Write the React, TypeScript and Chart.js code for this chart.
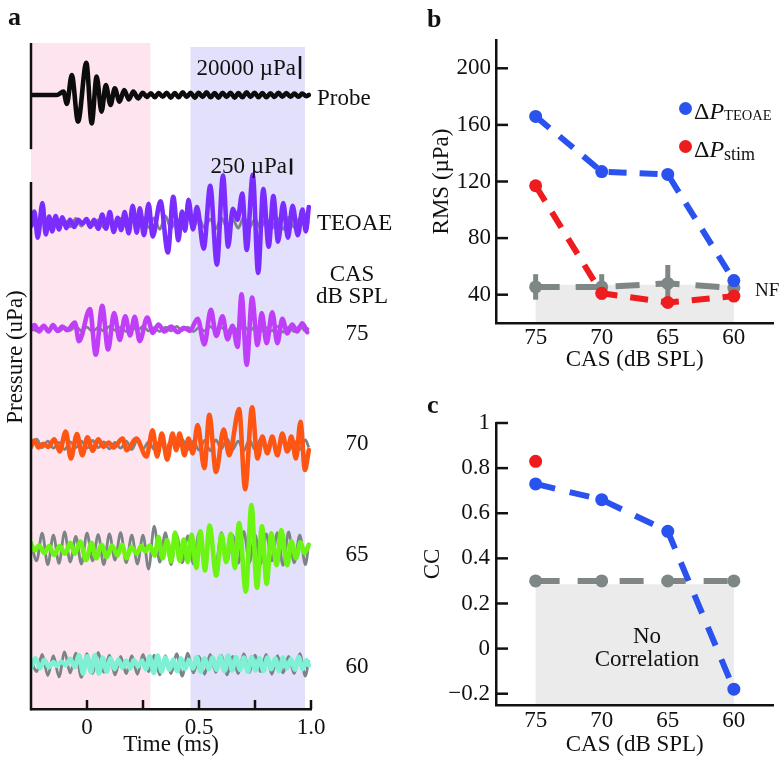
import React, { useEffect, useRef } from "react";
import { Chart, registerables } from "chart.js";

Chart.register(...registerables);

const SERIF = "'Liberation Serif', 'Times New Roman', Times, serif";
const INK = "#111111";

// ---------------- Panel a: waveforms (time in ms, pressure in µPa) ----------------
const timeTicks = [0, 0.5, 1.0];
const timeMinorTicks = [0.25, 0.75];
const windowStarts = [-0.25, 0.462];
const windowEnds = [0.283, 0.973];
const scaleBarValues = [20000, 250];

const probeWave = [[-0.25,0],[-0.135,0],[-0.105,2900],[-0.09,-7800],[-0.068,17400],[-0.04,-23200],[-0.003,28100],[0.021,-24700],[0.043,16000],[0.065,-14500],[0.084,8700],[0.105,-8700],[0.124,5800],[0.145,-5800],[0.166,4400],[0.187,-3800],[0.207,2900],[0.228,-2900],[0.249,2000],[0.267,-1700],[0.285,1500],[0.303,-2000],[0.32,1700],[0.338,-1500],[0.356,2000],[0.374,-2300],[0.392,1700],[0.409,-2000],[0.427,2300],[0.445,-1700],[0.463,2000],[0.481,-2300],[0.498,2000],[0.516,-1700],[0.534,2300],[0.552,-2000],[0.57,1700],[0.587,-2300],[0.605,2000],[0.623,-1700],[0.641,2000],[0.659,-2300],[0.676,1700],[0.694,-2000],[0.712,2300],[0.73,-1700],[0.748,2000],[0.766,-2000],[0.783,1700],[0.801,-2000],[0.819,1500],[0.837,-1700],[0.855,2000],[0.872,-1500],[0.89,1700],[0.908,-1500],[0.926,1200],[0.944,-1500],[0.961,1200],[0.979,-1000],[0.99,0]];

const teoaeWave = [[-0.25,-50],[-0.235,180],[-0.22,-230],[-0.199,310],[-0.184,-180],[-0.169,100],[-0.155,-130],[-0.14,110],[-0.125,-100],[-0.11,90],[-0.092,-80],[-0.076,50],[-0.057,-60],[-0.039,50],[-0.021,-10],[-0.002,60],[0.014,-60],[0.032,50],[0.05,-90],[0.068,130],[0.085,-90],[0.102,170],[0.119,-140],[0.137,80],[0.153,-110],[0.168,170],[0.186,-160],[0.204,270],[0.222,-150],[0.236,230],[0.254,-190],[0.275,300],[0.293,-210],[0.328,340],[0.361,-460],[0.385,410],[0.408,-270],[0.424,180],[0.438,-120],[0.453,360],[0.473,-100],[0.491,250],[0.521,-400],[0.55,580],[0.58,-650],[0.607,740],[0.63,-370],[0.651,220],[0.672,50],[0.693,460],[0.713,-420],[0.74,750],[0.764,-780],[0.787,530],[0.811,-370],[0.832,420],[0.853,-290],[0.876,310],[0.897,-230],[0.918,270],[0.941,-190],[0.962,210],[0.977,-130],[0.99,250]];

const cas75Wave = [[-0.25,-10],[-0.235,60],[-0.214,-40],[-0.193,50],[-0.172,-40],[-0.152,60],[-0.131,-30],[-0.11,40],[-0.089,-20],[-0.054,100],[-0.036,-190],[0.013,310],[0.039,-400],[0.068,360],[0.094,-320],[0.121,250],[0.146,-170],[0.171,200],[0.192,-100],[0.213,190],[0.235,-190],[0.269,180],[0.294,-60],[0.319,70],[0.346,-40],[0.376,40],[0.405,-50],[0.432,20],[0.459,-30],[0.494,160],[0.524,-240],[0.553,300],[0.577,-110],[0.605,200],[0.627,-160],[0.65,50],[0.672,-280],[0.69,540],[0.713,-560],[0.737,490],[0.761,-250],[0.78,250],[0.802,-220],[0.827,260],[0.85,-220],[0.872,160],[0.894,-70],[0.916,70],[0.938,-40],[0.961,90],[0.983,-50]];

const cas70Wave = [[-0.25,0],[-0.235,70],[-0.217,-40],[-0.195,20],[-0.172,-30],[-0.146,90],[-0.122,-100],[-0.095,210],[-0.072,-210],[-0.045,170],[-0.021,-160],[0.002,120],[0.026,-90],[0.05,90],[0.074,-30],[0.097,40],[0.118,-40],[0.159,100],[0.177,-80],[0.22,100],[0.265,-180],[0.293,230],[0.313,-180],[0.334,180],[0.358,-230],[0.382,180],[0.398,-80],[0.413,180],[0.435,-160],[0.453,100],[0.472,-130],[0.494,310],[0.524,-360],[0.546,470],[0.576,-420],[0.61,240],[0.635,-160],[0.679,560],[0.706,-690],[0.737,590],[0.761,-210],[0.783,130],[0.805,-130],[0.827,130],[0.85,-160],[0.872,180],[0.894,-100],[0.912,130],[0.933,-210],[0.953,360],[0.973,-390],[0.99,-80]];

const cas65Wave = [[-0.25,70],[-0.235,-40],[-0.214,40],[-0.19,-80],[-0.169,30],[-0.146,-110],[-0.122,30],[-0.098,-90],[-0.075,80],[-0.054,-90],[-0.03,100],[-0.004,-190],[0.02,80],[0.041,-160],[0.065,50],[0.088,-140],[0.112,40],[0.136,-120],[0.156,50],[0.177,-160],[0.198,20],[0.222,-90],[0.242,30],[0.26,-50],[0.281,40],[0.302,-120],[0.319,170],[0.337,-160],[0.358,120],[0.376,-210],[0.393,240],[0.414,-200],[0.432,130],[0.45,-220],[0.467,210],[0.488,-310],[0.506,260],[0.527,-350],[0.547,350],[0.577,-430],[0.601,210],[0.621,-220],[0.642,220],[0.66,-310],[0.679,390],[0.709,-680],[0.734,670],[0.759,-620],[0.781,340],[0.802,-560],[0.823,230],[0.847,-270],[0.867,280],[0.894,-270],[0.912,110],[0.933,-160],[0.953,90],[0.971,-80],[0.99,50]];

const cas60Wave = [[-0.25,-60],[-0.23,90],[-0.21,-70],[-0.19,60],[-0.17,-50],[-0.15,30],[-0.135,-30],[-0.115,40],[-0.095,-20],[-0.075,80],[-0.055,-50],[-0.035,140],[-0.018,-150],[0,120],[0.018,-130],[0.035,140],[0.053,-150],[0.07,100],[0.088,-120],[0.105,90],[0.123,-80],[0.14,70],[0.158,-60],[0.175,50],[0.193,-70],[0.21,60],[0.228,-40],[0.245,50],[0.263,-80],[0.28,120],[0.298,-140],[0.315,130],[0.333,-120],[0.35,100],[0.368,-90],[0.385,70],[0.403,-110],[0.42,90],[0.438,-80],[0.455,60],[0.473,-70],[0.49,110],[0.508,-120],[0.525,90],[0.543,-80],[0.56,100],[0.578,-90],[0.595,120],[0.613,-110],[0.63,130],[0.648,-100],[0.665,110],[0.683,-90],[0.7,100],[0.718,-120],[0.735,110],[0.753,-100],[0.77,90],[0.788,-110],[0.805,100],[0.823,-80],[0.84,90],[0.858,-110],[0.875,100],[0.893,-70],[0.91,80],[0.928,-90],[0.945,110],[0.963,-80],[0.98,60],[0.99,-20]];

// noise-floor (gray) traces, sampled at the same times
const noiseTime = [-0.25,-0.225,-0.2,-0.175,-0.15,-0.125,-0.1,-0.075,-0.05,-0.025,0,0.025,0.05,0.075,0.1,0.125,0.15,0.175,0.2,0.225,0.25,0.275,0.3,0.325,0.35,0.375,0.4,0.425,0.45,0.475,0.5,0.525,0.55,0.575,0.6,0.625,0.65,0.675,0.7,0.725,0.75,0.775,0.8,0.825,0.85,0.875,0.9,0.925,0.95,0.975,0.99];
const noiseTEOAE = [20,-60,50,-70,60,-50,40,-60,70,-50,60,-40,50,-70,60,-50,70,-60,50,-80,90,-70,80,-100,110,-90,70,-80,90,-60,70,-80,60,-90,80,-70,60,-80,90,-70,60,-80,70,-90,80,-100,90,-70,80,-60,30];
const noise75 = [10,-30,40,-30,20,-40,30,-20,40,-30,30,-40,20,-30,40,-20,30,-40,30,-20,40,-30,20,-40,30,-30,40,-20,30,-40,20,-30,40,-30,20,-40,30,-20,40,-30,30,-40,20,-30,40,-50,30,-40,50,-30,20];
const noise70 = [-60,90,-40,60,-50,40,-70,50,-40,60,-50,70,-40,50,-60,40,-50,60,-70,80,-60,50,-70,60,-80,70,-60,90,-70,60,-80,70,-90,80,-60,100,-70,60,-90,80,-70,90,-60,70,-100,80,-90,60,-70,80,-40];
const noise65 = [100,-200,230,-260,200,-240,250,-220,180,-250,230,-200,210,-260,220,-190,240,-230,200,-250,200,-330,340,-220,240,-260,210,-230,190,-250,230,-200,220,-260,240,-210,200,-240,260,-230,210,-250,220,-200,240,-270,250,-230,200,-260,80];
const noise60 = [60,-120,150,-180,130,-200,190,-140,170,-210,160,-150,180,-130,140,-170,120,-150,130,-160,150,-120,140,-170,130,-150,160,-190,170,-140,120,-160,150,-130,140,-170,120,-150,160,-130,140,-120,150,-160,130,-140,120,-150,160,-190,60];

// ---------------- Panel b: RMS vs CAS ----------------
const casLevels = [75, 70, 65, 60];
const casTicks = [75, 70, 65, 60];
const rmsTicks = [40, 80, 120, 160, 200];
const rmsTEOAE = [166, 127, 125, 50];
const rmsStim = [117, 41, 34.5, 39];
const rmsNF = [45.5, 45.5, 48, 44.7];
const rmsNFErr = [9, 9, 13, 9.5];
const rmsNFShade = 47;

// ---------------- Panel c: CC vs CAS ----------------
const ccTicks = [-0.2, 0, 0.2, 0.4, 0.6, 0.8, 1];
const ccTEOAE = [0.73, 0.66, 0.52, -0.18];
const ccStimLevels = [75];
const ccStim = [0.83];
const ccNoCorr = [0.3, 0.3, 0.3, 0.3];
const ccShade = 0.285;

// ---------------- styles ----------------
const BLUE = "#2a52ef";
const RED = "#ee1b1f";
const GRAY = "#7e8686";
const SHADE = "#ebebeb";
const TRACE_GRAY = "#7b8387";
const RESP_GAIN = 1 / 15.6; // px per µPa
const PROBE_GAIN = 1 / 870;

const font = (size: number) => ({ size, family: SERIF });

function makeA(canvas: HTMLCanvasElement) {
  const colored = [
    { w: probeWave, base: 95, gain: PROBE_GAIN, color: "#0c0c0c" },
    { w: teoaeWave, base: 223, gain: RESP_GAIN, color: "#7b2dff" },
    { w: cas75Wave, base: 329, gain: RESP_GAIN, color: "#bf3ff9" },
    { w: cas70Wave, base: 445, gain: RESP_GAIN, color: "#ff5512" },
    { w: cas65Wave, base: 548, gain: RESP_GAIN, color: "#6cf512" },
    { w: cas60Wave, base: 664, gain: RESP_GAIN, color: "#7ef0d3" },
  ];
  const noise = [
    { n: noiseTEOAE, base: 223 },
    { n: noise75, base: 329 },
    { n: noise70, base: 445 },
    { n: noise65, base: 548 },
    { n: noise60, base: 664 },
  ];
  const datasets: any[] = [];
  colored.forEach((c) =>
    datasets.push({
      data: c.w.map(([t, p]) => ({ x: t, y: c.base - p * c.gain })),
      borderColor: c.color,
      borderWidth: 4.6,
      pointRadius: 0,
      cubicInterpolationMode: "monotone",
      borderJoinStyle: "round",
      borderCapStyle: "round",
      order: 0,
    })
  );
  noise.forEach((g) =>
    datasets.push({
      data: noiseTime.map((t, i) => ({ x: t, y: g.base - g.n[i] * RESP_GAIN })),
      borderColor: TRACE_GRAY,
      borderWidth: 2.8,
      pointRadius: 0,
      cubicInterpolationMode: "monotone",
      borderJoinStyle: "round",
      order: 1,
    })
  );
  const bars = [
    { t: 0.951, c: 67.5, gain: PROBE_GAIN },
    { t: 0.911, c: 166.5, gain: RESP_GAIN },
  ];
  const plugin = {
    id: "panelA",
    beforeDraw(chart: any) {
      const { ctx, scales } = chart;
      const x = scales.x, y = scales.y;
      const fills = ["#fde4ee", "#e2e0fa"];
      const tops = [43, 47];
      ctx.save();
      windowStarts.forEach((s, i) => {
        const x0 = x.getPixelForValue(s);
        const x1 = x.getPixelForValue(windowEnds[i]);
        const y0 = y.getPixelForValue(tops[i]);
        const y1 = y.getPixelForValue(709);
        ctx.fillStyle = fills[i];
        ctx.fillRect(x0, y0, x1 - x0, y1 - y0);
      });
      ctx.restore();
    },
    afterDraw(chart: any) {
      const { ctx, scales, chartArea } = chart;
      const x = scales.x, y = scales.y;
      ctx.save();
      ctx.strokeStyle = INK;
      ctx.lineWidth = 2.5;
      [[43, 148], [182, 709]].forEach(([a, b]) => {
        ctx.beginPath();
        ctx.moveTo(chartArea.left, y.getPixelForValue(a));
        ctx.lineTo(chartArea.left, y.getPixelForValue(b) + 1.2);
        ctx.stroke();
      });
      [...timeTicks, ...timeMinorTicks].forEach((v) => {
        const px = x.getPixelForValue(v);
        ctx.beginPath();
        ctx.moveTo(px, chartArea.bottom);
        ctx.lineTo(px, chartArea.bottom - 9);
        ctx.stroke();
      });
      bars.forEach((b, i) => {
        const half = (scaleBarValues[i] * b.gain) / 2;
        const px = x.getPixelForValue(b.t);
        ctx.beginPath();
        ctx.moveTo(px, y.getPixelForValue(b.c - half));
        ctx.lineTo(px, y.getPixelForValue(b.c + half));
        ctx.stroke();
      });
      ctx.restore();
    },
  };
  return new Chart(canvas, {
    type: "line",
    data: { datasets },
    options: {
      animation: false,
      responsive: false,
      layout: { padding: { left: 31, right: 89, top: 40, bottom: 0 } },
      plugins: { legend: { display: false }, tooltip: { enabled: false } },
      scales: {
        x: {
          type: "linear",
          min: -0.25,
          max: 1.0,
          afterBuildTicks: (s: any) => {
            s.ticks = timeTicks.map((v) => ({ value: v }));
          },
          afterFit: (s: any) => {
            s.height = 54;
          },
          grid: { display: false, drawTicks: false },
          border: { display: true, color: INK, width: 2.5 },
          ticks: {
            padding: 5,
            font: font(23),
            color: INK,
            autoSkip: false,
            maxRotation: 0,
            callback: (v: any) => (v === 0 ? "0" : v === 0.5 ? "0.5" : "1.0"),
          },
          title: { display: true, text: "Time (ms)", font: font(23), color: INK, padding: { top: 0, bottom: 4 } },
        },
        y: { type: "linear", display: false, min: 40, max: 709, reverse: true },
      },
    } as any,
    plugins: [plugin],
  });
}

function yTickPlugin(ticks: number[]) {
  return {
    id: "inwardTicks",
    afterDraw(chart: any) {
      const { ctx, scales, chartArea } = chart;
      ctx.save();
      ctx.strokeStyle = INK;
      ctx.lineWidth = 2.5;
      ticks.forEach((v) => {
        const py = scales.y.getPixelForValue(v);
        ctx.beginPath();
        ctx.moveTo(chartArea.left, py);
        ctx.lineTo(chartArea.left + 12, py);
        ctx.stroke();
      });
      ctx.restore();
    },
  };
}

function shadePlugin(top: number) {
  return {
    id: "shade",
    beforeDraw(chart: any) {
      const { ctx, scales, chartArea } = chart;
      const x0 = scales.x.getPixelForValue(75);
      const x1 = scales.x.getPixelForValue(60);
      const y0 = scales.y.getPixelForValue(top);
      ctx.save();
      ctx.fillStyle = SHADE;
      ctx.fillRect(x0, y0, x1 - x0, chartArea.bottom - y0);
      ctx.restore();
    },
  };
}

function casX(tl: number, titlePadBottom: number, h: number) {
  return {
    type: "linear",
    reverse: true,
    min: 57,
    max: 78,
    afterBuildTicks: (s: any) => {
      s.ticks = casTicks.map((v) => ({ value: v }));
    },
    afterFit: (s: any) => {
      s.height = h;
    },
    grid: { display: false, drawTicks: false },
    border: { display: true, color: INK, width: 2.5 },
    ticks: { padding: tl, font: font(23), color: INK, autoSkip: false, maxRotation: 0, callback: (v: any) => String(v) },
    title: { display: true, text: "CAS (dB SPL)", font: font(23), color: INK, padding: { top: 0, bottom: titlePadBottom } },
  };
}

function lineDs(levels: number[], vals: number[], color: string, dash: number[], order: number, showLine = true) {
  return {
    data: levels.map((c, i) => ({ x: c, y: vals[i] })),
    borderColor: color,
    backgroundColor: color,
    pointBackgroundColor: color,
    pointBorderWidth: 0,
    pointRadius: 6.5,
    borderWidth: 6,
    borderDash: dash,
    borderCapStyle: "butt",
    showLine,
    tension: 0,
    order,
  };
}

function makeB(canvas: HTMLCanvasElement) {
  const errPlugin = {
    id: "errbars",
    beforeDatasetsDraw(chart: any) {
      const { ctx, scales } = chart;
      ctx.save();
      ctx.strokeStyle = GRAY;
      ctx.lineWidth = 5;
      casLevels.forEach((c, i) => {
        const px = scales.x.getPixelForValue(c);
        ctx.beginPath();
        ctx.moveTo(px, scales.y.getPixelForValue(rmsNF[i] - rmsNFErr[i]));
        ctx.lineTo(px, scales.y.getPixelForValue(rmsNF[i] + rmsNFErr[i]));
        ctx.stroke();
      });
      ctx.restore();
    },
  };
  return new Chart(canvas, {
    type: "line",
    data: {
      datasets: [
        lineDs(casLevels, rmsTEOAE, BLUE, [18, 13], 0),
        lineDs(casLevels, rmsStim, RED, [18, 13], 1),
        lineDs(casLevels, rmsNF, GRAY, [24, 16], 2),
      ],
    },
    options: {
      animation: false,
      responsive: false,
      layout: { padding: { left: 0, right: 2, top: 40, bottom: 0 } },
      plugins: { legend: { display: false }, tooltip: { enabled: false } },
      scales: {
        x: casX(1.5, 6, 57),
        y: {
          type: "linear",
          min: 20,
          max: 220,
          afterBuildTicks: (s: any) => {
            s.ticks = rmsTicks.map((v) => ({ value: v }));
          },
          afterFit: (s: any) => {
            s.width = 76;
          },
          grid: { display: false, drawTicks: false },
          border: { display: true, color: INK, width: 2.5 },
          ticks: { padding: 5, font: font(23), color: INK, callback: (v: any) => String(v) },
          title: { display: true, text: "RMS (µPa)", font: font(23), color: INK, padding: { top: 8, bottom: 0 } },
        },
      },
    } as any,
    plugins: [shadePlugin(rmsNFShade), errPlugin, yTickPlugin(rmsTicks)],
  });
}

function makeC(canvas: HTMLCanvasElement) {
  return new Chart(canvas, {
    type: "line",
    data: {
      datasets: [
        lineDs(ccStimLevels, ccStim, RED, [], 0, false),
        lineDs(casLevels, ccTEOAE, BLUE, [20, 15], 1),
        lineDs(casLevels, ccNoCorr, GRAY, [24, 18], 2),
      ],
    },
    options: {
      animation: false,
      responsive: false,
      layout: { padding: { left: 0, right: 2, top: 43, bottom: 0 } },
      plugins: { legend: { display: false }, tooltip: { enabled: false } },
      scales: {
        x: casX(2, 4, 58),
        y: {
          type: "linear",
          min: -0.25,
          max: 1.0,
          afterBuildTicks: (s: any) => {
            s.ticks = ccTicks.map((v) => ({ value: v }));
          },
          afterFit: (s: any) => {
            s.width = 86;
          },
          grid: { display: false, drawTicks: false },
          border: { display: true, color: INK, width: 2.5 },
          ticks: {
            padding: 6,
            font: font(23),
            color: INK,
            callback: (v: any) =>
              v === 1 ? "1" : Math.abs(v) < 1e-9 ? "0" : v < 0 ? "\u2212" + Math.abs(v).toFixed(1) : v.toFixed(1),
          },
          title: { display: true, text: "CC", font: font(23), color: INK, padding: { top: 9, bottom: 0 } },
        },
      },
    } as any,
    plugins: [shadePlugin(ccShade), yTickPlugin(ccTicks)],
  });
}

function T(props: { x: number; y: number; a?: "l" | "c" | "r"; s?: number; b?: boolean; children: any }) {
  const { x, y, a = "l", s = 23, b = false, children } = props;
  const tx = a === "l" ? "0" : a === "c" ? "-50%" : "-100%";
  return (
    <div
      style={{
        position: "absolute",
        left: x,
        top: y,
        transform: `translate(${tx},-50%)`,
        font: `${b ? "bold " : ""}${s}px ${SERIF}`,
        lineHeight: 1,
        whiteSpace: "nowrap",
        color: INK,
      }}
    >
      {children}
    </div>
  );
}

function Dot({ x, y, color }: { x: number; y: number; color: string }) {
  return (
    <div
      style={{ position: "absolute", left: x - 6.5, top: y - 6.5, width: 13, height: 13, borderRadius: "50%", background: color }}
    />
  );
}

export default function App() {
  const aRef = useRef<HTMLCanvasElement>(null);
  const bRef = useRef<HTMLCanvasElement>(null);
  const cRef = useRef<HTMLCanvasElement>(null);
  useEffect(() => {
    const charts = [makeA(aRef.current!), makeB(bRef.current!), makeC(cRef.current!)];
    return () => charts.forEach((c) => c.destroy());
  }, []);
  return (
    <div style={{ position: "fixed", left: 0, top: 0, width: 780, height: 763, background: "#fff", overflow: "hidden" }}>
      <canvas ref={aRef} width={400} height={763} style={{ position: "absolute", left: 0, top: 0 }} />
      <canvas ref={bRef} width={360} height={380} style={{ position: "absolute", left: 420, top: 0 }} />
      <canvas ref={cRef} width={370} height={383} style={{ position: "absolute", left: 410, top: 380 }} />

      {/* panel a */}
      <T x={8} y={17} s={26} b>a</T>
      <T x={296} y={67} a="r">20000 µPa</T>
      <T x={287} y={165} a="r">250 µPa</T>
      <T x={317} y={97}>Probe</T>
      <T x={317} y={222}>TEOAE</T>
      <T x={352} y={273} a="c">CAS</T>
      <T x={352} y={295} a="c">dB SPL</T>
      <T x={357} y={332} a="c">75</T>
      <T x={357} y={442} a="c">70</T>
      <T x={357} y={553} a="c">65</T>
      <T x={357} y={665} a="c">60</T>
      <div
        style={{
          position: "absolute",
          left: 14,
          top: 357,
          transform: "translate(-50%,-50%) rotate(-90deg)",
          font: `23px ${SERIF}`,
          lineHeight: 1,
          whiteSpace: "nowrap",
          color: INK,
        }}
      >
        Pressure (uPa)
      </div>

      {/* panel b */}
      <T x={427} y={19} s={26} b>b</T>
      <Dot x={685} y={108} color={BLUE} />
      <div style={{ position: "absolute", left: 694, top: 99, font: `24px ${SERIF}`, lineHeight: 1, whiteSpace: "nowrap", color: INK }}>
        Δ<i>P</i>
        <span style={{ fontSize: 14.5, verticalAlign: "-1px" }}>TEOAE</span>
      </div>
      <Dot x={685} y={146} color={RED} />
      <div style={{ position: "absolute", left: 694, top: 137, font: `24px ${SERIF}`, lineHeight: 1, whiteSpace: "nowrap", color: INK }}>
        Δ<i>P</i>
        <span style={{ fontSize: 18, verticalAlign: "-3px" }}>stim</span>
      </div>
      <T x={755} y={289} s={19}>NF</T>

      {/* panel c */}
      <T x={427} y={405} s={26} b>c</T>
      <T x={647} y={635} a="c">No</T>
      <T x={647} y={658} a="c">Correlation</T>
    </div>
  );
}
